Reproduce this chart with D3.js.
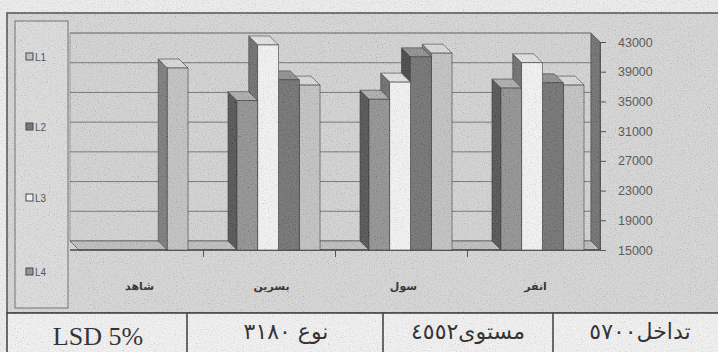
<!DOCTYPE html>
<html>
<head>
<meta charset="utf-8">
<script src="https://cdn.jsdelivr.net/npm/d3@7/dist/d3.min.js"></script>
<style>
  html, body { margin: 0; padding: 0; background: #f1f1f1; }
  svg { display: block; }
</style>
</head>
<body>
<svg id="chart" width="718" height="352"></svg>
<script>
// ---------------- data ----------------
const categories = ["شاهد", "بسرين", "سول", "انفر"];
const seriesNames = ["L1", "L2", "L3", "L4"];
const L1 = [39500, 37200, 41500, 37200];
const L2 = [null, 37900, 41000, 37500];
const L3 = [null, 42600, 37600, 40200];
const L4 = [null, 35100, 35300, 36800];
const yTicks = [15000, 19000, 23000, 27000, 31000, 35000, 39000, 43000];
const tableLabels = ["LSD 5%", "نوع ٣١٨٠", "مستوى٤٥٥٢", "تداخل٥٧٠٠"];

const seriesValues = { L1, L2, L3, L4 };

// ---------------- styles ----------------
const barColors = {
  L1: { front: "#c2c2c2", side: "#767676", top: "#dadada" },
  L2: { front: "#6c6c6c", side: "#3c3c3c", top: "#8c8c8c" },
  L3: { front: "#f7f7f7", side: "#686868", top: "#e4e4e4" },
  L4: { front: "#8e8e8e", side: "#4a4a4a", top: "#ababab" }
};
const DX = 9, DY = 9; // 3-D depth offset (back = up-left)

const svg = d3.select("#chart");

// grain filter for scanned look
const defs = svg.append("defs");
const f = defs.append("filter").attr("id", "grain")
  .attr("x", 0).attr("y", 0).attr("width", "100%").attr("height", "100%");
f.append("feTurbulence").attr("type", "fractalNoise")
  .attr("baseFrequency", 0.85).attr("numOctaves", 2).attr("seed", 7);
f.append("feColorMatrix").attr("type", "matrix")
  .attr("values", "0.9 0.9 0.9 0 -0.85  0.9 0.9 0.9 0 -0.85  0.9 0.9 0.9 0 -0.85  0 0 0 0 0.16");

// ---------------- chart frame ----------------
svg.append("rect").attr("x", 7).attr("y", 13).attr("width", 720).attr("height", 300)
  .attr("fill", "#d7d7d7").attr("stroke", "#4a4a4a").attr("stroke-width", 1.6);

// table area
svg.append("rect").attr("x", 7).attr("y", 313).attr("width", 720).attr("height", 45)
  .attr("fill", "#f6f6f6").attr("stroke", "#333").attr("stroke-width", 1.6);

// legend box
svg.append("rect").attr("x", 15).attr("y", 21).attr("width", 53).attr("height", 287)
  .attr("fill", "#dedede").attr("stroke", "#7a7a7a").attr("stroke-width", 1.2);

// ---------------- scales ----------------
const y = d3.scaleLinear().domain([15000, 43000]).range([250, 42]);
const x0 = d3.scaleBand().domain(categories).range([78, 611])
  .paddingInner(0.371).paddingOuter(0.2045);
const x1 = d3.scaleBand().domain(["L4", "L3", "L2", "L1"]).range([0, x0.bandwidth()]);

const wallL = 70, wallR = 591, frontL = wallL + DX, frontR = wallR + DX;
const baseY = y(15000);

// back wall
svg.append("polygon")
  .attr("points", [[wallL, y(43000) - DY], [wallR, y(43000) - DY], [wallR, baseY - DY], [wallL, baseY - DY]].join(" "))
  .attr("fill", "#d4d4d4").attr("stroke", "#8a8a8a").attr("stroke-width", 0.8);

// gridlines on back wall
svg.append("g").selectAll("line").data(yTicks).join("line")
  .attr("x1", wallL).attr("x2", wallR)
  .attr("y1", d => y(d) - DY).attr("y2", d => y(d) - DY)
  .attr("stroke", "#6e6e6e").attr("stroke-width", 1);

// floor
svg.append("polygon")
  .attr("points", [[wallL, baseY - DY], [wallR, baseY - DY], [frontR, baseY], [frontL, baseY]].join(" "))
  .attr("fill", "#bdbdbd").attr("stroke", "#555").attr("stroke-width", 0.8);
svg.append("line").attr("x1", frontL - 9).attr("x2", frontR).attr("y1", baseY).attr("y2", baseY)
  .attr("stroke", "#333").attr("stroke-width", 1.6);

// right side wall
svg.append("polygon")
  .attr("points", [[wallR, y(43000) - DY], [frontR, y(43000)], [frontR, baseY], [wallR, baseY - DY]].join(" "))
  .attr("fill", "#6a6a6a").attr("stroke", "#444").attr("stroke-width", 0.8);

// ---------------- bars ----------------
const bars = [];
categories.forEach((c, i) => {
  seriesNames.forEach(s => {
    const v = seriesValues[s][i];
    if (v != null) bars.push({ cat: c, series: s, value: v });
  });
});
bars.forEach(b => { b.x = x0(b.cat) + x1(b.series); b.w = x1.bandwidth(); b.yt = y(b.value); });
bars.sort((a, b) => b.x - a.x); // draw right to left

const gBars = svg.append("g");
bars.forEach(b => {
  const g = gBars.append("g");
  const c = barColors[b.series];
  const x = b.x, w = b.w, yt = b.yt, yb = baseY;
  g.append("polygon")
    .attr("points", [[x, yt], [x, yb], [x - DX, yb - DY], [x - DX, yt - DY]].join(" "))
    .attr("fill", c.side).attr("stroke", "#2a2a2a").attr("stroke-width", 0.6);
  g.append("polygon")
    .attr("points", [[x, yt], [x + w, yt], [x + w - DX, yt - DY], [x - DX, yt - DY]].join(" "))
    .attr("fill", c.top).attr("stroke", "#2a2a2a").attr("stroke-width", 0.6);
  g.append("rect").attr("x", x).attr("y", yt).attr("width", w).attr("height", yb - yt)
    .attr("fill", c.front).attr("stroke", "#2a2a2a").attr("stroke-width", 0.6);
});

// ---------------- axis ----------------
const axis = svg.append("g").attr("transform", `translate(${frontR},0)`)
  .call(d3.axisRight(y).tickValues(yTicks).tickSize(6).tickPadding(12).tickFormat(d3.format("d")));
axis.select(".domain").attr("stroke", "#444");
axis.selectAll(".tick line").attr("stroke", "#444");
axis.selectAll(".tick text").attr("fill", "#4a4a4a")
  .style("font-family", "'Liberation Sans', Arial, sans-serif").style("font-size", "12.5px");

// category boundary ticks
const bounds = categories.slice(0, -1).map(c => x0(c) + x0.bandwidth() + x0.step() * x0.paddingInner() / 2 - DX);
svg.append("g").selectAll("line").data(bounds).join("line")
  .attr("x1", d => d).attr("x2", d => d).attr("y1", baseY).attr("y2", baseY + 7)
  .attr("stroke", "#444").attr("stroke-width", 1);

// category labels
svg.append("g").selectAll("text").data(categories).join("text")
  .attr("x", d => x0(d) + x0.bandwidth() / 2 - 7)
  .attr("y", 290)
  .attr("text-anchor", "middle")
  .attr("direction", "rtl")
  .style("font-family", "'DejaVu Sans', sans-serif")
  .style("font-size", "11px").style("font-weight", "bold")
  .attr("fill", "#1e1e1e")
  .text(d => d);

// ---------------- legend ----------------
const legendY = [57, 127, 198, 272];
const lg = svg.append("g");
seriesNames.forEach((s, i) => {
  lg.append("rect").attr("x", 26).attr("y", legendY[i] - 4).attr("width", 7).attr("height", 7)
    .attr("fill", barColors[s].front).attr("stroke", "#333").attr("stroke-width", 1);
  lg.append("text").attr("x", 35).attr("y", legendY[i] + 3.5)
    .style("font-family", "'Liberation Sans', Arial, sans-serif").style("font-size", "10px")
    .attr("fill", "#444").text(s);
});

// ---------------- table row ----------------
const cellEdges = [7, 187, 383, 553, 727];
svg.append("g").selectAll("line").data(cellEdges.slice(1, -1)).join("line")
  .attr("x1", d => d).attr("x2", d => d).attr("y1", 313).attr("y2", 352)
  .attr("stroke", "#333").attr("stroke-width", 1.6);
const cellCenters = [98, 286, 468, 640];
svg.append("g").selectAll("text").data(tableLabels).join("text")
  .attr("x", (d, i) => cellCenters[i])
  .attr("y", (d, i) => i === 0 ? 345 : 339)
  .attr("text-anchor", "middle")
  .attr("direction", (d, i) => i === 0 ? "ltr" : "rtl")
  .style("font-family", (d, i) => i === 0 ? "'Liberation Serif', serif" : "'DejaVu Sans', sans-serif")
  .style("font-size", (d, i) => i === 0 ? "26px" : "22px")
  .attr("fill", "#1a1a1a")
  .text(d => d);

// scanned grain overlay
svg.append("rect").attr("x", 0).attr("y", 0).attr("width", 718).attr("height", 352)
  .attr("filter", "url(#grain)").attr("pointer-events", "none");
</script>
</body>
</html>
